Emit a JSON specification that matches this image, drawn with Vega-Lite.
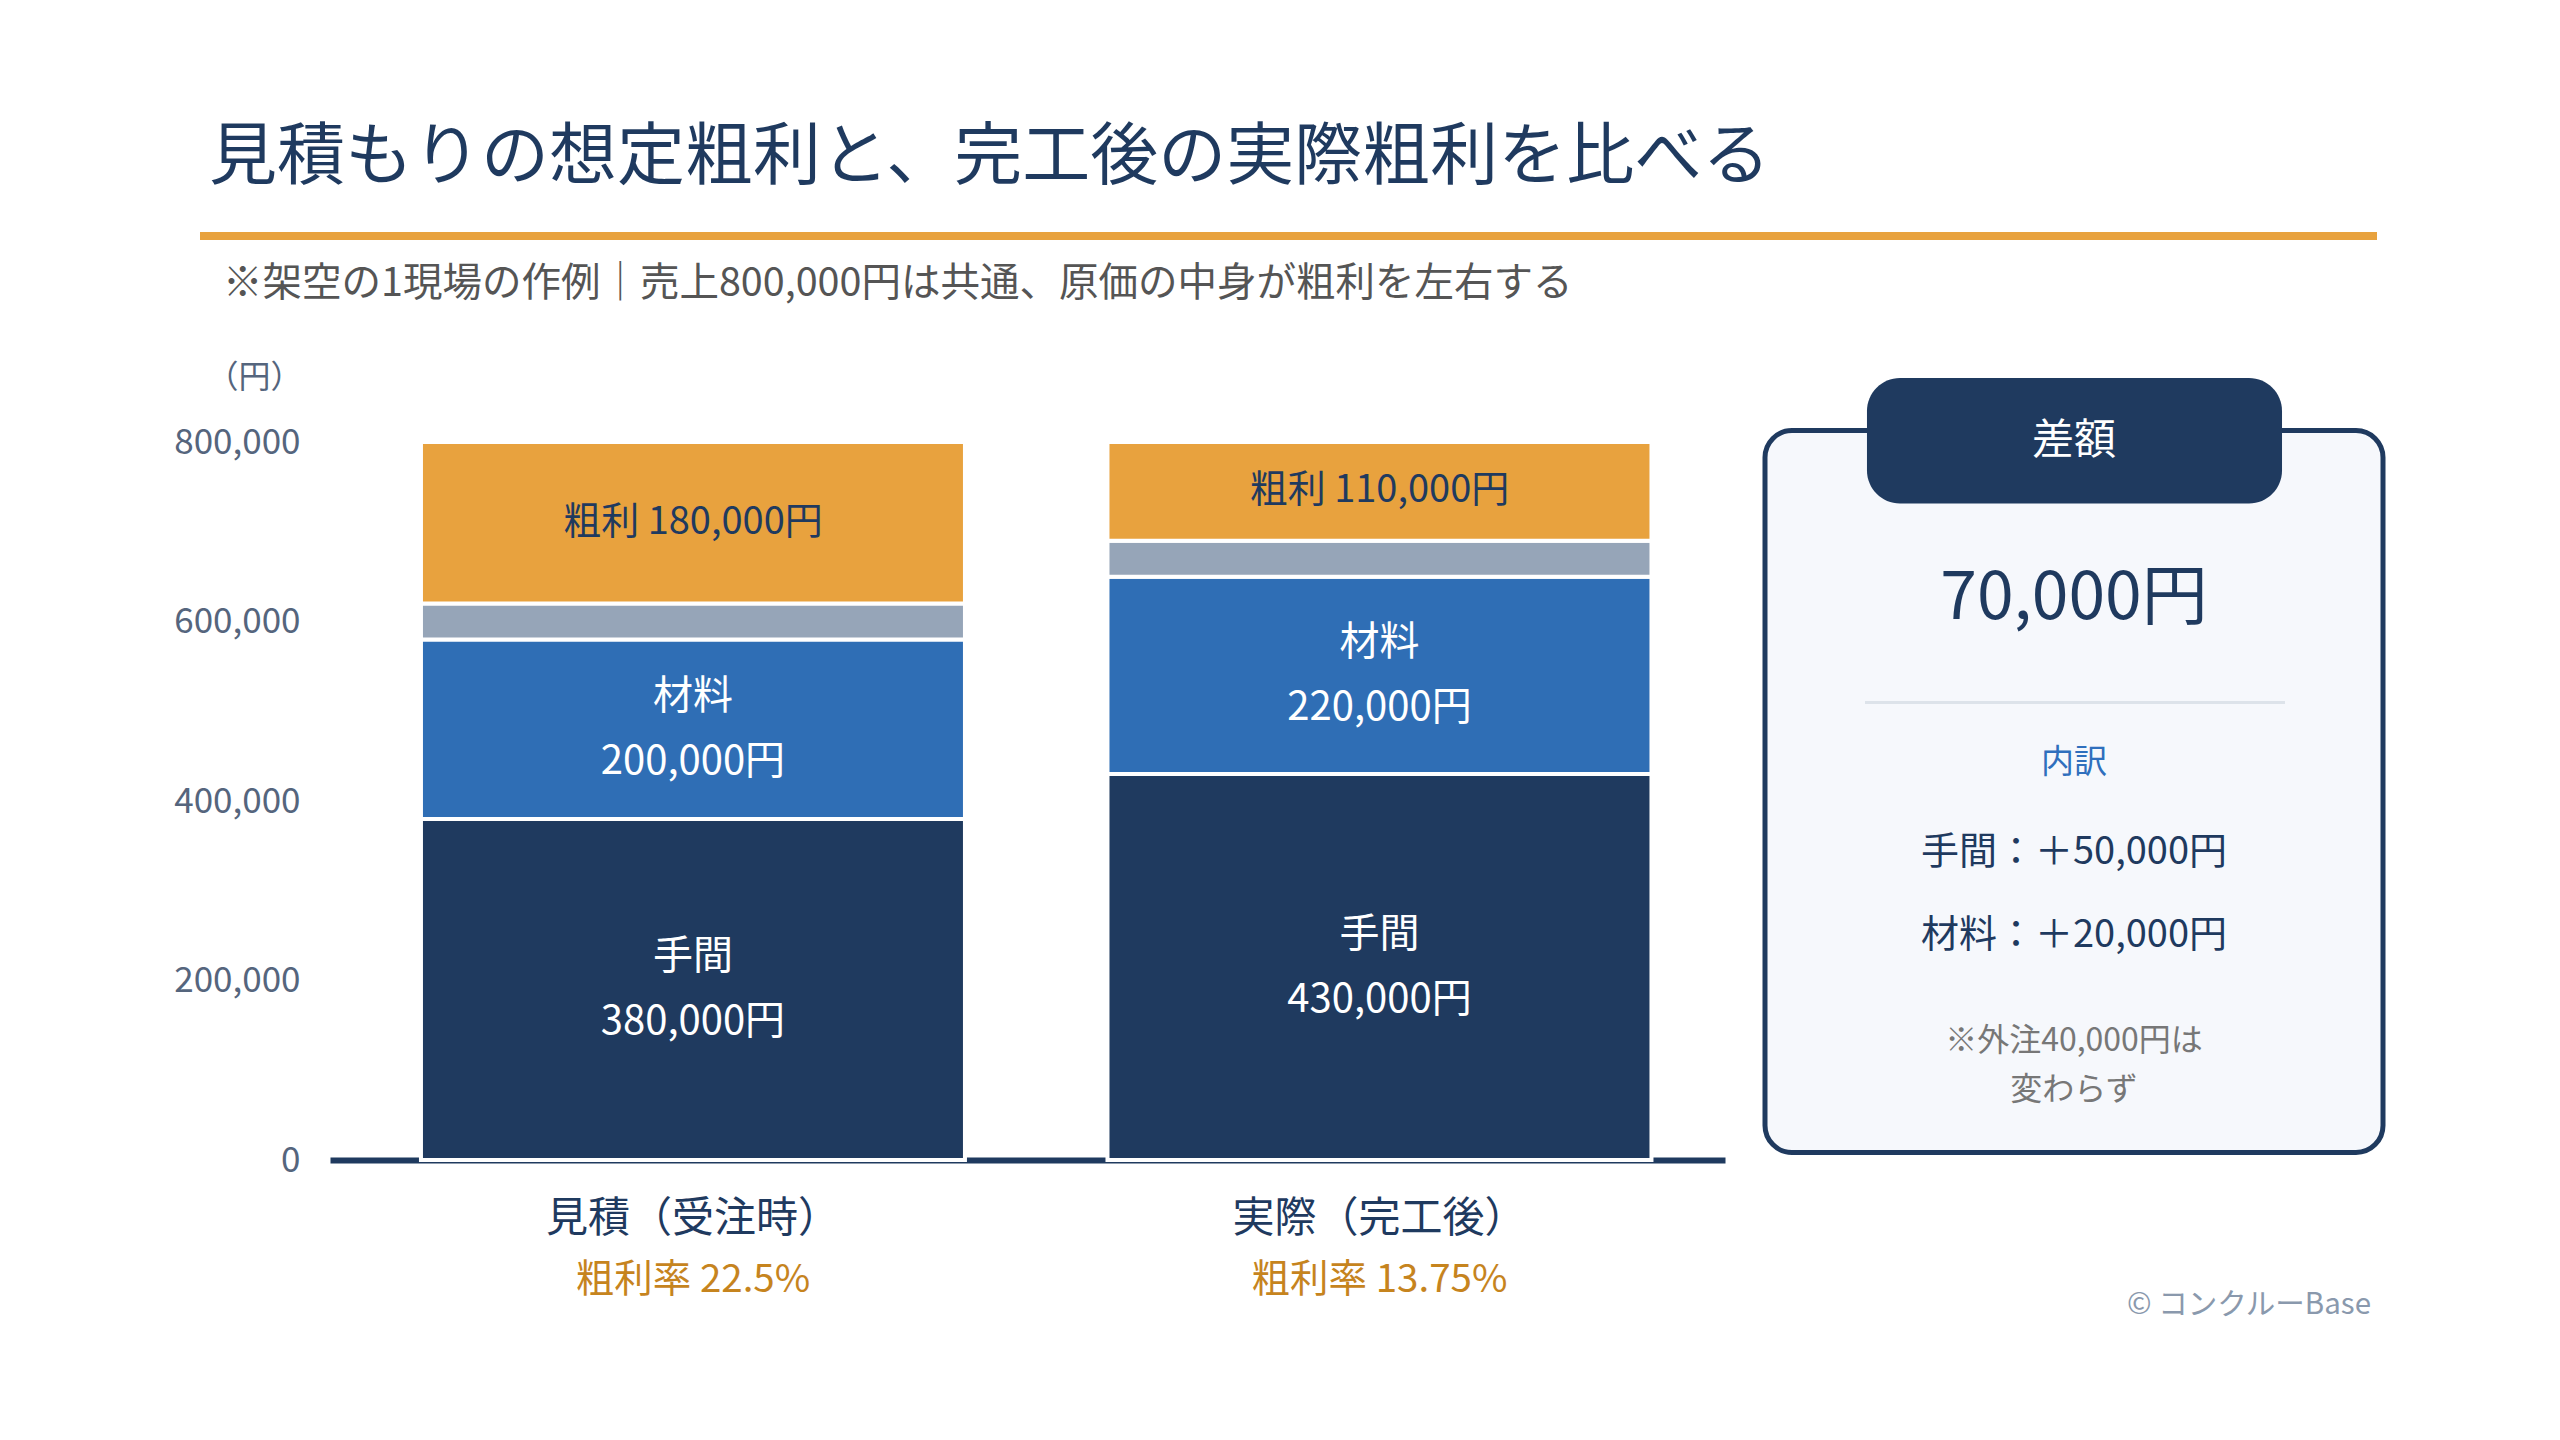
{
  "$schema": "https://vega.github.io/schema/vega-lite/v6.json",
  "width": 1395,
  "height": 718,
  "autosize": {"type": "none"},
  "padding": {"left": 330, "top": 442, "right": 835, "bottom": 280},
  "background": "white",
  "config": {
    "font": "Noto Sans CJK JP",
    "view": {"stroke": null}
  },
  "datasets": {
    "costs": [
      {"case": "見積（受注時）", "item": "手間", "amount": 380000, "order": 1},
      {"case": "見積（受注時）", "item": "材料", "amount": 200000, "order": 2},
      {"case": "見積（受注時）", "item": "外注", "amount": 40000, "order": 3},
      {"case": "見積（受注時）", "item": "粗利", "amount": 180000, "order": 4},
      {"case": "実際（完工後）", "item": "手間", "amount": 430000, "order": 1},
      {"case": "実際（完工後）", "item": "材料", "amount": 220000, "order": 2},
      {"case": "実際（完工後）", "item": "外注", "amount": 40000, "order": 3},
      {"case": "実際（完工後）", "item": "粗利", "amount": 110000, "order": 4}
    ],
    "cases": [
      {"case": "見積（受注時）", "rate": "粗利率 22.5%"},
      {"case": "実際（完工後）", "rate": "粗利率 13.75%"}
    ],
    "panel": [
      {"line": 0, "kind": "header", "text": "差額"},
      {"line": 1, "kind": "value", "text": "70,000円"},
      {"line": 2, "kind": "sub", "text": "内訳"},
      {"line": 3, "kind": "item", "text": "手間：＋50,000円"},
      {"line": 4, "kind": "item", "text": "材料：＋20,000円"},
      {"line": 5, "kind": "note", "text": "※外注40,000円は"},
      {"line": 6, "kind": "note", "text": "変わらず"}
    ],
    "notes": [
      {"role": "title", "text": "見積もりの想定粗利と、完工後の実際粗利を比べる"},
      {"role": "subtitle", "text": "※架空の1現場の作例｜売上800,000円は共通、原価の中身が粗利を左右する"},
      {"role": "footer", "text": "© コンクルーBase"}
    ],
    "one": [{}]
  },
  "layer": [
    {
      "layer": [
        {
          "data": {"name": "one"},
          "mark": {"type": "rule", "color": "#e8a23e", "strokeWidth": 8},
          "encoding": {
            "x": {"datum": 0, "type": "quantitative", "scale": {"domain": [0, 1], "range": [-130, 2047]}, "axis": null},
            "x2": {"datum": 1},
            "y": {"datum": 0, "type": "quantitative", "scale": {"domain": [0, 1], "range": [-206, 861]}, "axis": null}
          }
        },
        {
          "data": {"name": "notes"},
          "transform": [{"filter": "datum.role === 'title'"}],
          "mark": {"type": "text", "align": "left", "baseline": "middle", "fontSize": 68, "color": "#1f3a5f", "dx": 9, "dy": -77},
          "encoding": {
            "x": {"datum": 0, "type": "quantitative", "scale": {"domain": [0, 1], "range": [-130, 2047]}, "axis": null},
            "y": {"datum": 0, "type": "quantitative", "scale": {"domain": [0, 1], "range": [-206, 861]}, "axis": null},
            "text": {"field": "text"}
          }
        },
        {
          "data": {"name": "notes"},
          "transform": [{"filter": "datum.role === 'subtitle'"}],
          "mark": {"type": "text", "align": "left", "baseline": "middle", "fontSize": 39.5, "color": "#555555", "dx": 23, "dy": 48},
          "encoding": {
            "x": {"datum": 0, "type": "quantitative", "scale": {"domain": [0, 1], "range": [-130, 2047]}, "axis": null},
            "y": {"datum": 0, "type": "quantitative", "scale": {"domain": [0, 1], "range": [-206, 861]}, "axis": null},
            "text": {"field": "text"}
          }
        },
        {
          "data": {"name": "notes"},
          "transform": [{"filter": "datum.role === 'footer'"}],
          "mark": {"type": "text", "align": "right", "baseline": "middle", "fontSize": 29.5, "color": "#8a99ad", "dx": -6, "dy": 2},
          "encoding": {
            "x": {"datum": 1, "type": "quantitative", "scale": {"domain": [0, 1], "range": [-130, 2047]}, "axis": null},
            "y": {"datum": 1, "type": "quantitative", "scale": {"domain": [0, 1], "range": [-206, 861]}, "axis": null},
            "text": {"field": "text"}
          }
        }
      ]
    },
    {
      "data": {"name": "one"},
      "layer": [
        {
          "mark": {"type": "rect", "fill": "#f6f8fc", "stroke": "#1f3a5f", "strokeWidth": 5, "cornerRadius": 27},
          "encoding": {
            "x": {"datum": 0, "type": "quantitative", "scale": {"domain": [0, 1], "range": [1435, 2053]}, "axis": null},
            "x2": {"datum": 1},
            "y": {"datum": 0, "type": "quantitative", "scale": {"domain": [0, 1], "range": [-11.5, 710.5]}, "axis": null},
            "y2": {"datum": 1}
          }
        },
        {
          "mark": {"type": "rect", "fill": "#1f3a5f", "cornerRadius": 33},
          "encoding": {
            "x": {"datum": 0.165, "type": "quantitative", "scale": {"domain": [0, 1], "range": [1435, 2053]}, "axis": null},
            "x2": {"datum": 0.8366},
            "y": {"datum": -0.0727, "type": "quantitative", "scale": {"domain": [0, 1], "range": [-11.5, 710.5]}, "axis": null},
            "y2": {"datum": 0.1011}
          }
        },
        {
          "mark": {"type": "rule", "color": "#dde3ea", "strokeWidth": 3},
          "encoding": {
            "x": {"datum": 0.1618, "type": "quantitative", "scale": {"domain": [0, 1], "range": [1435, 2053]}, "axis": null},
            "x2": {"datum": 0.8414},
            "y": {"datum": 0.3769, "type": "quantitative", "scale": {"domain": [0, 1], "range": [-11.5, 710.5]}, "axis": null}
          }
        }
      ]
    },
    {
      "data": {"name": "panel"},
      "encoding": {
        "x": {"datum": 0.5, "type": "quantitative", "scale": {"domain": [0, 1], "range": [1435, 2053]}, "axis": null},
        "y": {"field": "line", "type": "quantitative", "scale": {"domain": [0, 1, 2, 3, 4, 5, 6], "range": [-1, 157, 321, 411, 494, 598.5, 647.5], "zero": false, "nice": false}, "axis": null},
        "text": {"field": "text"}
      },
      "layer": [
        {
          "transform": [{"filter": "datum.kind === 'header'"}],
          "mark": {"type": "text", "align": "center", "baseline": "middle", "fontSize": 42, "color": "white"}
        },
        {
          "transform": [{"filter": "datum.kind === 'value'"}],
          "mark": {"type": "text", "align": "center", "baseline": "middle", "fontSize": 66, "color": "#1f3a5f"}
        },
        {
          "transform": [{"filter": "datum.kind === 'sub'"}],
          "mark": {"type": "text", "align": "center", "baseline": "middle", "fontSize": 33, "color": "#2f6fbd"}
        },
        {
          "transform": [{"filter": "datum.kind === 'item'"}],
          "mark": {"type": "text", "align": "center", "baseline": "middle", "fontSize": 38, "color": "#1f3a5f"}
        },
        {
          "transform": [{"filter": "datum.kind === 'note'"}],
          "mark": {"type": "text", "align": "center", "baseline": "middle", "fontSize": 32, "color": "#777777"}
        }
      ]
    },
    {
      "layer": [
        {
          "data": {"name": "costs"},
          "mark": {"type": "bar", "stroke": "white", "strokeWidth": 4},
          "encoding": {
            "x": {
              "field": "case", "type": "nominal", "sort": ["見積（受注時）", "実際（完工後）"], "title": null,
              "scale": {"paddingInner": 0.2076, "paddingOuter": 0.1198, "align": 0.553},
              "axis": {
                "labelAngle": 0, "labelFontSize": 42, "labelColor": "#1f3a5f", "labelPadding": 38, "labelLimit": 0,
                "ticks": false, "tickSize": 0, "domainColor": "#1f3a5f", "domainWidth": 6, "grid": false
              }
            },
            "y": {
              "field": "amount", "type": "quantitative", "stack": "zero", "title": "（円）",
              "scale": {"domain": [0, 800000], "nice": false},
              "axis": {
                "values": [0, 200000, 400000, 600000, 800000], "format": ",", "labelExpr": "format(datum.value, ',')",
                "labelFontSize": 35, "labelColor": "#55657d", "labelPadding": 30,
                "ticks": false, "domain": false, "gridColor": "#dee4ed", "gridWidth": 3,
                "titleAngle": 0, "titleX": -76, "titleY": -65, "titleAlign": "center", "titleBaseline": "middle",
                "titleFontSize": 32, "titleFontWeight": "normal", "titleColor": "#55657d"
              }
            },
            "color": {
              "field": "item", "type": "nominal",
              "scale": {"domain": ["手間", "材料", "外注", "粗利"], "range": ["#1f3a5f", "#2f6eb5", "#96a5b8", "#e8a23e"]},
              "legend": null
            },
            "order": {"field": "order", "type": "quantitative"}
          }
        },
        {
          "data": {"name": "costs"},
          "transform": [
            {"stack": "amount", "groupby": ["case"], "sort": [{"field": "order", "order": "ascending"}], "as": ["y0", "y1"]},
            {"filter": "datum.item === '粗利'"},
            {"calculate": "(datum.y0 + datum.y1) / 2", "as": "mid"},
            {"calculate": "datum.item + ' ' + format(datum.amount, ',') + '円'", "as": "label"}
          ],
          "mark": {"type": "text", "align": "center", "baseline": "middle", "fontSize": 38, "color": "#1f3a5f"},
          "encoding": {
            "x": {"field": "case", "type": "nominal", "sort": ["見積（受注時）", "実際（完工後）"], "title": null},
            "y": {
              "field": "mid", "type": "quantitative", "title": "（円）",
              "axis": {
                "values": [0, 200000, 400000, 600000, 800000], "format": ",", "labelExpr": "format(datum.value, ',')",
                "labelFontSize": 35, "labelColor": "#55657d", "labelPadding": 30,
                "ticks": false, "domain": false, "gridColor": "#dee4ed", "gridWidth": 3,
                "titleAngle": 0, "titleX": -76, "titleY": -65, "titleAlign": "center", "titleBaseline": "middle",
                "titleFontSize": 32, "titleFontWeight": "normal", "titleColor": "#55657d"
              }
            },
            "text": {"field": "label"}
          }
        },
        {
          "data": {"name": "costs"},
          "transform": [
            {"stack": "amount", "groupby": ["case"], "sort": [{"field": "order", "order": "ascending"}], "as": ["y0", "y1"]},
            {"filter": "datum.item === '手間' || datum.item === '材料'"},
            {"calculate": "(datum.y0 + datum.y1) / 2", "as": "mid"},
            {"calculate": "datum.item + '\\n' + format(datum.amount, ',') + '円'", "as": "label"}
          ],
          "mark": {"type": "text", "align": "center", "baseline": "middle", "fontSize": 40, "color": "white", "lineBreak": "\n", "lineHeight": 65, "dy": -32.5},
          "encoding": {
            "x": {"field": "case", "type": "nominal", "sort": ["見積（受注時）", "実際（完工後）"], "title": null},
            "y": {
              "field": "mid", "type": "quantitative", "title": "（円）",
              "axis": {
                "values": [0, 200000, 400000, 600000, 800000], "format": ",", "labelExpr": "format(datum.value, ',')",
                "labelFontSize": 35, "labelColor": "#55657d", "labelPadding": 30,
                "ticks": false, "domain": false, "gridColor": "#dee4ed", "gridWidth": 3,
                "titleAngle": 0, "titleX": -76, "titleY": -65, "titleAlign": "center", "titleBaseline": "middle",
                "titleFontSize": 32, "titleFontWeight": "normal", "titleColor": "#55657d"
              }
            },
            "text": {"field": "label"}
          }
        },
        {
          "data": {"name": "cases"},
          "mark": {"type": "text", "align": "center", "baseline": "middle", "fontSize": 38.5, "color": "#c6841e", "dy": 120},
          "encoding": {
            "x": {"field": "case", "type": "nominal", "sort": ["見積（受注時）", "実際（完工後）"], "title": null},
            "y": {
              "datum": 0, "type": "quantitative", "title": "（円）",
              "axis": {
                "values": [0, 200000, 400000, 600000, 800000], "format": ",", "labelExpr": "format(datum.value, ',')",
                "labelFontSize": 35, "labelColor": "#55657d", "labelPadding": 30,
                "ticks": false, "domain": false, "gridColor": "#dee4ed", "gridWidth": 3,
                "titleAngle": 0, "titleX": -76, "titleY": -65, "titleAlign": "center", "titleBaseline": "middle",
                "titleFontSize": 32, "titleFontWeight": "normal", "titleColor": "#55657d"
              }
            },
            "text": {"field": "rate"}
          }
        }
      ]
    }
  ],
  "resolve": {"scale": {"x": "independent", "y": "independent"}}
}
